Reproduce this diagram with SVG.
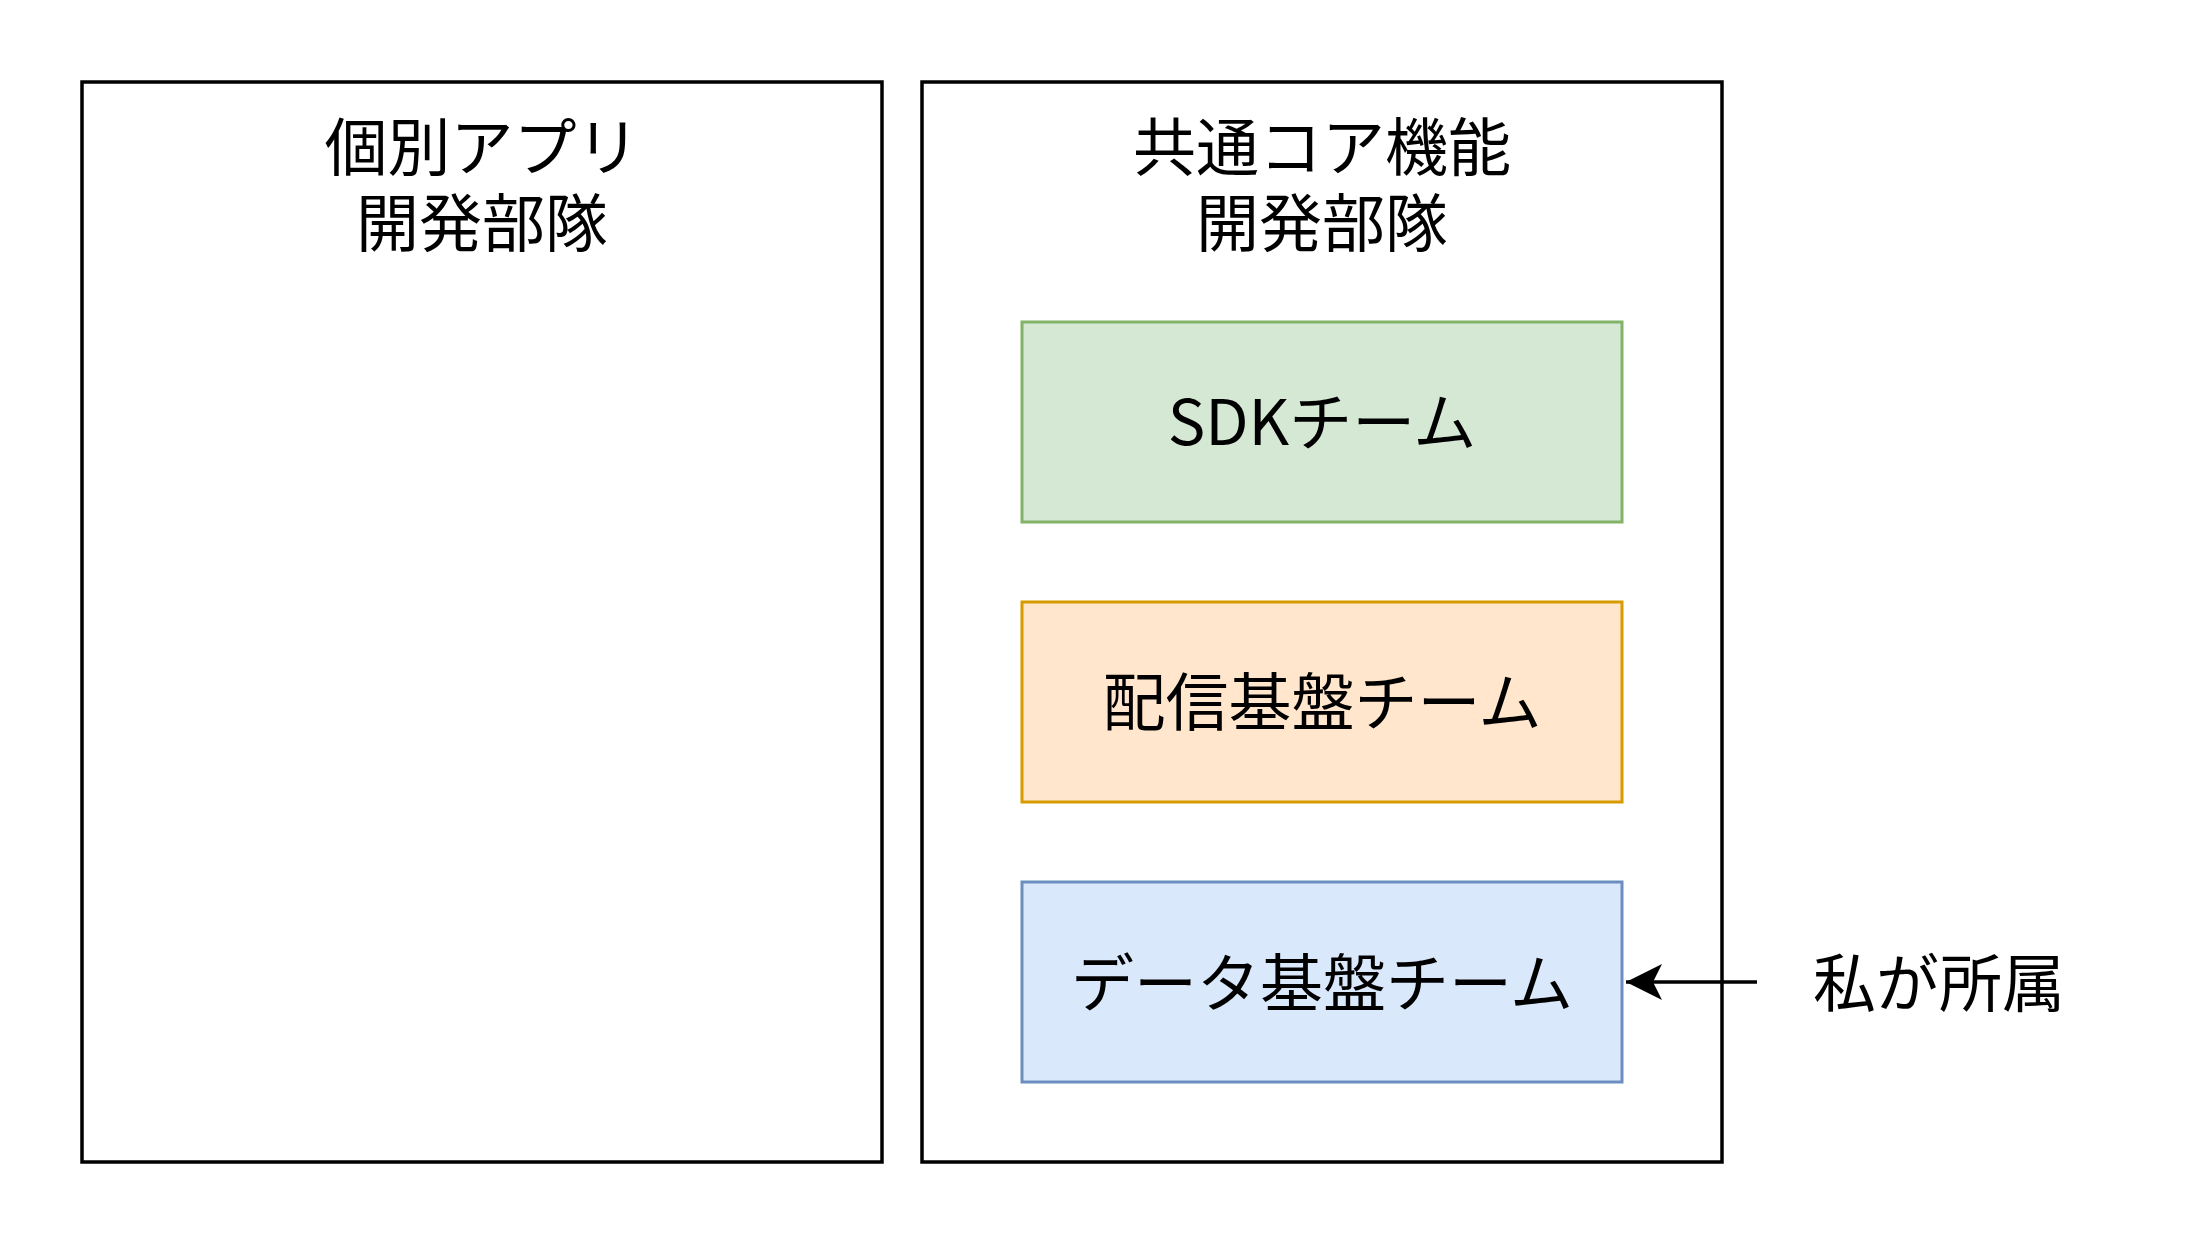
<svg xmlns="http://www.w3.org/2000/svg" width="2200" height="1244" viewBox="0 0 2200 1244">
<defs>
<style>
text{font-family:"Noto Sans CJK JP","Noto Sans",sans-serif;font-size:63px;fill:#000;text-anchor:middle}
.dept{fill:#fff;stroke:#000;stroke-width:3.5}
.g{fill:#d5e8d4;stroke:#82b366;stroke-width:3}
.o{fill:#ffe6cc;stroke:#d79b00;stroke-width:3}
.b{fill:#dae8fc;stroke:#6c8ebf;stroke-width:3}
</style>
<marker id="arr" markerUnits="userSpaceOnUse" markerWidth="40" markerHeight="40" viewBox="0 0 40 40" refX="38" refY="20" orient="auto">
<path d="M38,20 L2,2 L11,20 L2,38 Z" fill="#000"/>
</marker>
</defs>
<rect width="2200" height="1244" fill="#fff"/>
<g id="dept-app">
<rect class="dept" x="82" y="82" width="800" height="1080"/>
<text x="482" y="170">個別アプリ<tspan x="482" dy="76">開発部隊</tspan></text>
</g>
<g id="dept-core">
<rect class="dept" x="922" y="82" width="800" height="1080"/>
<text x="1322" y="170">共通コア機能<tspan x="1322" dy="76">開発部隊</tspan></text>
</g>
<g id="team-sdk">
<rect class="g" x="1022" y="322" width="600" height="200"/>
<text x="1322" y="445">SDKチーム</text>
</g>
<g id="team-delivery">
<rect class="o" x="1022" y="602" width="600" height="200"/>
<text x="1322" y="725">配信基盤チーム</text>
</g>
<g id="team-data">
<rect class="b" x="1022" y="882" width="600" height="200"/>
<text x="1322" y="1006">データ基盤チーム</text>
</g>
<g id="label-me">
<text x="1939" y="1006">私が所属</text>
</g>
<g id="connectors">
<line x1="1757" y1="982" x2="1626" y2="982" stroke="#000" stroke-width="3.5" marker-end="url(#arr)"/>
</g>
</svg>
